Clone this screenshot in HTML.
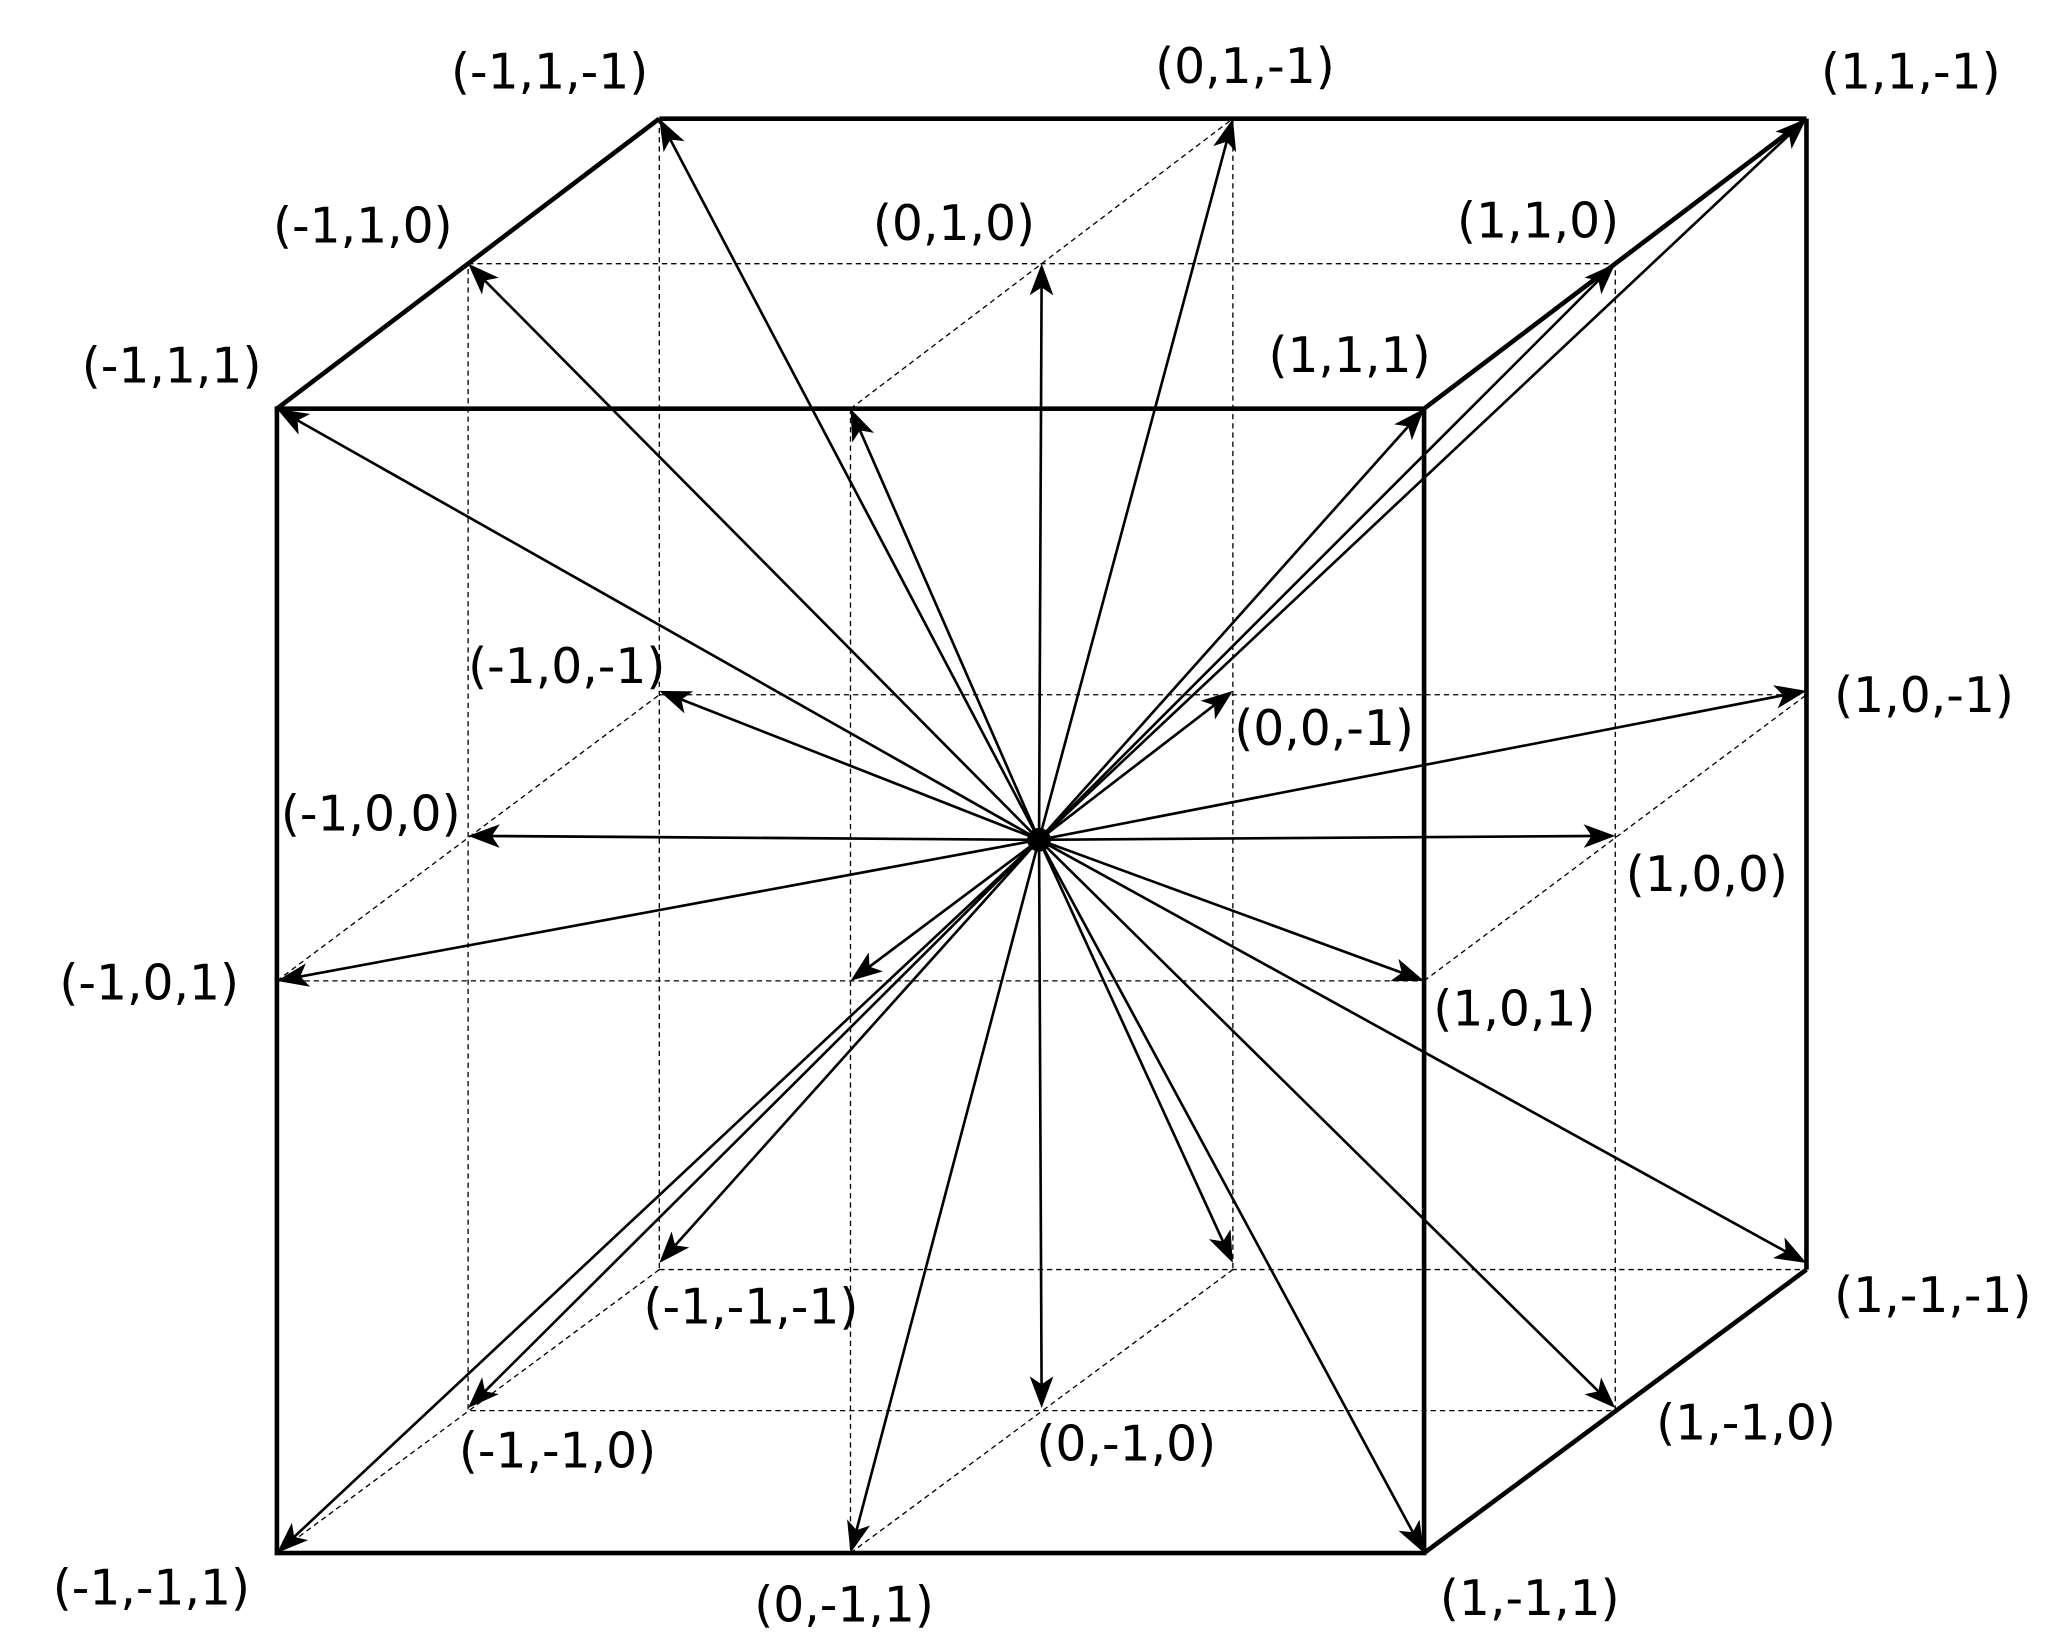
<!DOCTYPE html>
<html><head><meta charset="utf-8"><style>
html,body{margin:0;padding:0;background:#fff;}
svg{display:block;}
text{font-family:"DejaVu Sans","Liberation Sans",sans-serif;font-size:37px;fill:#000;}
</style></head><body>
<svg width="2057" height="1644" viewBox="0 0 1560 1247" preserveAspectRatio="none" xmlns="http://www.w3.org/2000/svg">
<g fill="none" stroke="#000" stroke-width="1" stroke-dasharray="4,3">
<line x1="500" y1="90" x2="500" y2="963"/>
<line x1="500" y1="963" x2="1370" y2="963"/>
<line x1="210" y1="1178" x2="500" y2="963"/>
<rect x="355" y="200" width="870" height="870"/>
<line x1="645" y1="310" x2="645" y2="1178"/>
<line x1="935" y1="90" x2="935" y2="963"/>
<line x1="210" y1="744" x2="1080" y2="744"/>
<line x1="500" y1="527" x2="1370" y2="527"/>
<line x1="645" y1="310" x2="935" y2="90"/>
<line x1="645" y1="1178" x2="935" y2="963"/>
<line x1="210" y1="744" x2="500" y2="527"/>
<line x1="1080" y1="744" x2="1370" y2="527"/>
</g>
<g fill="none" stroke="#000" stroke-width="3.5">
<rect x="210" y="310" width="870" height="868"/>
<line x1="500" y1="90" x2="1370" y2="90"/>
<line x1="1370" y1="90" x2="1370" y2="963"/>
<line x1="210" y1="310" x2="500" y2="90"/>
<line x1="1080" y1="310" x2="1370" y2="90"/>
<line x1="1080" y1="1178" x2="1370" y2="963"/>
</g>
<g id="arrows" stroke="#000" stroke-width="2"></g>
<circle cx="788" cy="637" r="9" fill="#000"/>
<text x="342" y="67">(-1,1,-1)</text>
<text x="876" y="63">(0,1,-1)</text>
<text x="1381" y="67">(1,1,-1)</text>
<text x="207" y="184">(-1,1,0)</text>
<text x="662" y="182">(0,1,0)</text>
<text x="1105" y="180">(1,1,0)</text>
<text x="62" y="290">(-1,1,1)</text>
<text x="962" y="282">(1,1,1)</text>
<text x="355" y="518">(-1,0,-1)</text>
<text x="1391" y="540">(1,0,-1)</text>
<text x="936" y="565">(0,0,-1)</text>
<text x="213" y="630">(-1,0,0)</text>
<text x="1233" y="676">(1,0,0)</text>
<text x="45" y="758">(-1,0,1)</text>
<text x="1087" y="778">(1,0,1)</text>
<text x="488" y="1004">(-1,-1,-1)</text>
<text x="1391" y="995">(1,-1,-1)</text>
<text x="348" y="1113">(-1,-1,0)</text>
<text x="786" y="1108">(0,-1,0)</text>
<text x="1256" y="1092">(1,-1,0)</text>
<text x="40" y="1217">(-1,-1,1)</text>
<text x="572" y="1230">(0,-1,1)</text>
<text x="1092" y="1225">(1,-1,1)</text>
</svg>
<script>
(function(){
var g=document.getElementById('arrows'),ns='http://www.w3.org/2000/svg';
var bx={1:210,0:355,'-1':500},by={1:310,0:200,'-1':90};
var cx=788,cy=637,L=24,W=9,N=6;
for(var x=-1;x<=1;x++)for(var y=-1;y<=1;y++)for(var z=-1;z<=1;z++){
if(!x&&!y&&!z)continue;
var X=bx[z]+(x+1)*435,Y=by[z]+(1-y)*434;
var dx=X-cx,dy=Y-cy,d=Math.sqrt(dx*dx+dy*dy),ux=dx/d,uy=dy/d,px=-uy,py=ux;
var l=document.createElementNS(ns,'line');
l.setAttribute('x1',cx);l.setAttribute('y1',cy);
l.setAttribute('x2',X-ux*(L-N));l.setAttribute('y2',Y-uy*(L-N));
g.appendChild(l);
var bxp=X-ux*L,byp=Y-uy*L;
var p=document.createElementNS(ns,'path');
p.setAttribute('d','M'+X+','+Y+' L'+(bxp+px*W)+','+(byp+py*W)+' L'+(X-ux*(L-N))+','+(Y-uy*(L-N))+' L'+(bxp-px*W)+','+(byp-py*W)+' Z');
p.setAttribute('fill','#000');p.setAttribute('stroke','none');
g.appendChild(p);}
})();
</script>
</body></html>
